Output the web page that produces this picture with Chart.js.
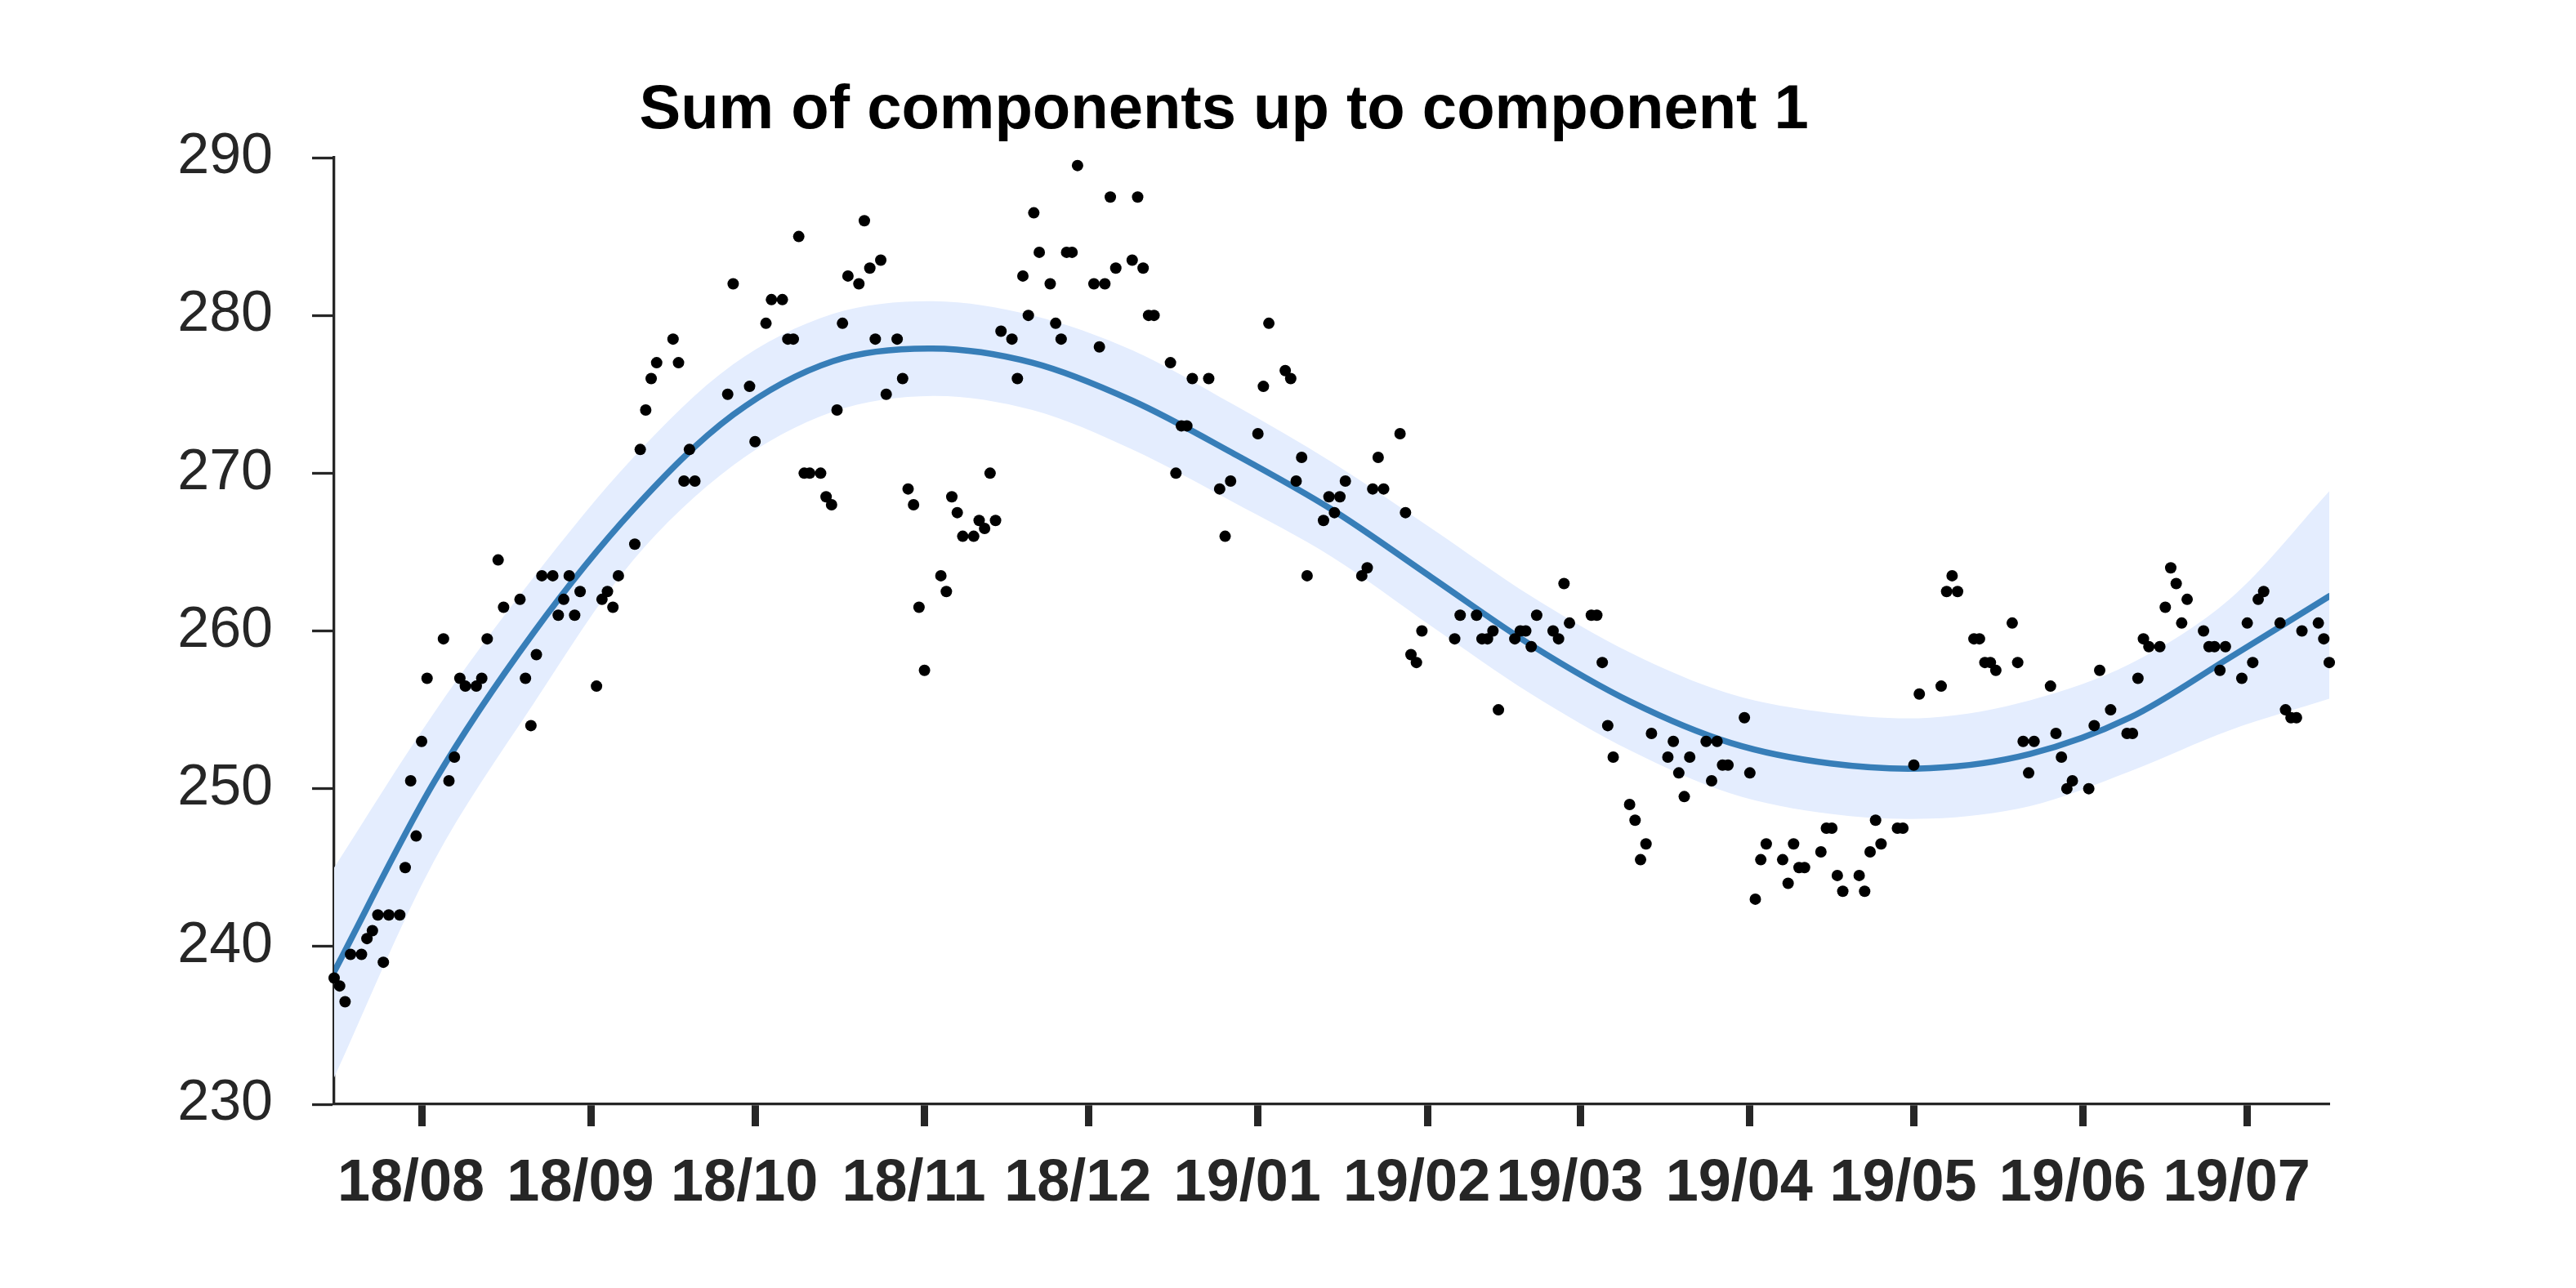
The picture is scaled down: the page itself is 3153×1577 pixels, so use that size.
<!DOCTYPE html>
<html>
<head>
<meta charset="utf-8">
<script src="https://cdn.jsdelivr.net/npm/chart.js@4.4.0/dist/chart.umd.min.js"></script>
<style>
  body { margin: 0; background: #fff; }
</style>
</head>
<body>
<canvas id="chart" width="3153" height="1577"></canvas>
<script>
const chartTitle = "Sum of components up to component 1";

// x values are days counted from 2018-07-16
const monthTickDays = [16, 47, 77, 108, 138, 169, 200, 228, 259, 289, 320, 350];
const monthTickLabels = ["18/08", "18/09", "18/10", "18/11", "18/12", "19/01",
    "19/02", "19/03", "19/04", "19/05", "19/06", "19/07"];

const pointDays = [
    0, 1, 2, 3, 5, 6, 7, 8, 9, 10, 12, 13, 14, 15, 16, 17, 20, 21, 22, 23, 24, 26, 27, 28, 30, 31,
    34, 35, 36, 37, 38, 40, 41, 42, 43, 44, 45, 48, 49, 50, 51, 52, 55, 56, 57, 58, 59, 62, 63, 64,
    65, 66, 72, 73, 76, 77, 79, 80, 82, 83, 84, 85, 86, 87, 89, 90, 91, 92, 93, 94, 96, 97, 98, 99,
    100, 101, 103, 104, 105, 106, 107, 108, 111, 112, 113, 114, 115, 117, 118, 119, 120, 121, 122,
    124, 125, 126, 127, 128, 129, 131, 132, 133, 134, 135, 136, 139, 140, 141, 142, 143, 146, 147,
    148, 149, 150, 153, 154, 155, 156, 157, 160, 162, 163, 164, 169, 170, 171, 174, 175, 176, 177,
    178, 181, 182, 183, 184, 185, 188, 189, 190, 191, 192, 195, 196, 197, 198, 199, 205, 206, 209,
    210, 211, 212, 213, 216, 217, 218, 219, 220, 223, 224, 225, 226, 230, 231, 232, 233, 234, 237,
    238, 239, 240, 241, 244, 245, 246, 247, 248, 251, 252, 253, 254, 255, 258, 259, 260, 261, 262,
    265, 266, 267, 268, 269, 272, 273, 274, 275, 276, 279, 280, 281, 282, 283, 286, 287, 289, 290,
    294, 295, 296, 297, 300, 301, 302, 303, 304, 307, 308, 309, 310, 311, 314, 315, 316, 317, 318,
    321, 322, 323, 325, 328, 329, 330, 331, 332, 334, 335, 336, 337, 338, 339, 342, 343, 344, 345,
    346, 349, 350, 351, 352, 353, 356, 357, 358, 359, 360, 363, 364, 365
];
const pointValues = [
    238.0, 237.5, 236.5, 239.5, 239.5, 240.5, 241.0, 242.0, 239.0, 242.0, 242.0, 245.0, 250.5, 247.0,
    253.0, 257.0, 259.5, 250.5, 252.0, 257.0, 256.5, 256.5, 257.0, 259.5, 264.5, 261.5,
    262.0, 257.0, 254.0, 258.5, 263.5, 263.5, 261.0, 262.0, 263.5, 261.0, 262.5, 256.5, 262.0, 262.5,
    261.5, 263.5, 265.5, 271.5, 274.0, 276.0, 277.0, 278.5, 277.0, 269.5,
    271.5, 269.5, 275.0, 282.0, 275.5, 272.0, 279.5, 281.0, 281.0, 278.5, 278.5, 285.0, 270.0, 270.0,
    270.0, 268.5, 268.0, 274.0, 279.5, 282.5, 282.0, 286.0, 283.0, 278.5,
    283.5, 275.0, 278.5, 276.0, 269.0, 268.0, 261.5, 257.5, 263.5, 262.5, 268.5, 267.5, 266.0, 266.0,
    267.0, 266.5, 270.0, 267.0, 279.0,
    278.5, 276.0, 282.5, 280.0, 286.5, 284.0, 282.0, 279.5, 278.5, 284.0, 284.0, 289.5, 282.0, 278.0,
    282.0, 287.5, 283.0, 283.5, 287.5,
    283.0, 280.0, 280.0, 277.0, 270.0, 273.0, 273.0, 276.0, 276.0, 269.0, 266.0, 269.5, 272.5, 275.5,
    279.5, 276.5, 276.0, 269.5, 271.0,
    263.5, 267.0, 268.5, 267.5, 268.5, 269.5, 263.5, 264.0, 269.0, 271.0, 269.0, 272.5, 267.5, 258.5,
    258.0, 260.0, 259.5, 261.0, 261.0,
    259.5, 259.5, 260.0, 255.0, 259.5, 260.0, 260.0, 259.0, 261.0, 260.0, 259.5, 263.0, 260.5, 261.0,
    261.0, 258.0, 254.0, 252.0, 249.0,
    248.0, 245.5, 246.5, 253.5, 252.0, 253.0, 251.0, 249.5, 252.0, 253.0, 250.5, 253.0, 251.5, 251.5,
    254.5, 251.0, 243.0, 245.5, 246.5,
    245.5, 244.0, 246.5, 245.0, 245.0, 246.0, 247.5, 247.5, 244.5, 243.5, 244.5, 243.5, 246.0, 248.0,
    246.5, 247.5, 247.5, 251.5, 256.0,
    256.5, 262.5, 263.5, 262.5, 259.5, 259.5, 258.0, 258.0, 257.5, 260.5, 258.0, 253.0, 251.0, 253.0,
    256.5, 253.5, 252.0, 250.0, 250.5,
    250.0, 254.0, 257.5, 255.0, 253.5, 253.5, 257.0, 259.5, 259.0, 259.0, 261.5, 264.0, 263.0, 260.5,
    262.0, 260.0, 259.0, 259.0, 257.5,
    259.0, 257.0, 260.5, 258.0, 262.0, 262.5, 260.5, 255.0, 254.5, 254.5, 260.0, 260.5, 259.5, 258.0
];

// fitted curve and its band, read every 18.25 days
const curveDays = [0, 18.25, 36.5, 54.75, 73, 91.25, 109.5, 127.75, 146, 164.25, 182.5, 200.75,
    219, 237.25, 255.5, 273.75, 292, 310.25, 328.5, 346.75, 365];
const curveMean = [238.4, 250.4, 259.9, 267.7, 273.7, 277.1, 277.9, 277.0, 274.6, 271.3, 267.7,
    263.4, 259.1, 255.5, 252.9, 251.6, 251.3, 252.2, 254.5, 258.3, 262.2];
const bandUpper = [245.0, 254.8, 263.4, 271.0, 276.9, 280.1, 280.9, 280.0, 277.8, 274.4, 270.7,
    266.5, 262.2, 258.6, 256.0, 254.8, 254.5, 255.6, 257.9, 262.0, 268.85];
const bandLower = [231.7, 245.4, 255.4, 264.5, 270.5, 273.9, 274.9, 274.0, 271.5, 268.2, 264.7,
    260.3, 256.0, 252.4, 249.7, 248.4, 248.1, 248.9, 251.1, 253.7, 255.7];

const yMin = 230, yMax = 290, yStep = 10;
const dayMin = 0, dayMax = 365;

const axisColor = "#262626";
const fontFamily = "'Liberation Sans', Arial, Helvetica, sans-serif";

function pairs(xs, ys) {
    return xs.map((x, i) => ({ x: x, y: ys[i] }));
}

const titlePlugin = {
    id: "plainTitle",
    afterDraw(chart) {
        const ctx = chart.ctx;
        const area = chart.chartArea;
        ctx.save();
        ctx.font = "bold 76px " + fontFamily;
        ctx.fillStyle = "#000";
        ctx.textAlign = "center";
        ctx.textBaseline = "alphabetic";
        ctx.fillText(chartTitle, area.left + area.width * 0.446, area.top - 36);
        ctx.restore();
    }
};

new Chart(document.getElementById("chart"), {
    type: "line",
    data: {
        datasets: [
            {
                type: "scatter",
                data: pairs(pointDays, pointValues),
                pointRadius: 7,
                pointBackgroundColor: "#000",
                pointBorderWidth: 0,
                showLine: false,
                clip: false,
                order: 0,
            },
            {
                data: pairs(curveDays, curveMean),
                borderColor: "#377eb8",
                borderWidth: 7.5,
                borderCapStyle: "round",
                tension: 0.33,
                pointRadius: 0,
                fill: false,
                order: 1,
            },
            {
                data: pairs(curveDays, bandUpper),
                borderWidth: 0,
                borderColor: "rgba(0,0,0,0)",
                backgroundColor: "#e4edfe",
                tension: 0.33,
                pointRadius: 0,
                fill: "+1",
                order: 2,
            },
            {
                data: pairs(curveDays, bandLower),
                borderWidth: 0,
                borderColor: "rgba(0,0,0,0)",
                tension: 0.33,
                pointRadius: 0,
                fill: false,
                order: 3,
            },
        ],
    },
    options: {
        responsive: false,
        animation: false,
        events: [],
        layout: {
            autoPadding: false,
            padding: { top: 193, right: 302, left: 0, bottom: 0 },
        },
        plugins: {
            legend: { display: false },
            tooltip: { enabled: false },
            title: { display: false },
        },
        scales: {
            x: {
                type: "linear",
                min: dayMin,
                max: dayMax,
                afterBuildTicks: (axis) => {
                    axis.ticks = monthTickDays.map((d) => ({ value: d }));
                },
                afterFit: (axis) => { axis.height = 225; },
                ticks: {
                    autoSkip: false,
                    maxRotation: 0,
                    padding: 28,
                    labelOffset: -13,
                    color: axisColor,
                    font: { family: fontFamily, size: 72, weight: "bold" },
                    callback: (value, index) => monthTickLabels[index],
                },
                grid: {
                    drawOnChartArea: false,
                    drawTicks: true,
                    tickLength: 27,
                    tickWidth: 9,
                    tickColor: axisColor,
                },
                border: { display: true, color: axisColor, width: 3.3 },
            },
            y: {
                min: yMin,
                max: yMax,
                afterFit: (axis) => { axis.width = 409; },
                ticks: {
                    stepSize: yStep,
                    padding: 48,
                    color: axisColor,
                    font: { family: fontFamily, size: 70 },
                },
                grid: {
                    drawOnChartArea: false,
                    drawTicks: true,
                    tickLength: 27,
                    tickWidth: 3.3,
                    tickColor: axisColor,
                },
                border: { display: true, color: axisColor, width: 3.3 },
            },
        },
    },
    plugins: [titlePlugin],
});
</script>
</body>
</html>
